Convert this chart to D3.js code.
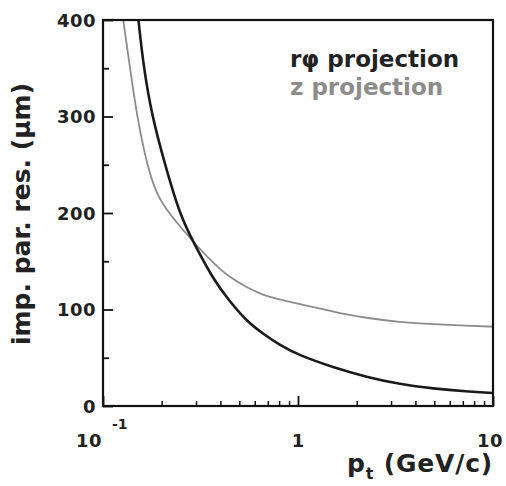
<!DOCTYPE html>
<html><head><meta charset="utf-8">
<script src="https://cdn.jsdelivr.net/npm/d3@7"></script>
<style>html,body{margin:0;padding:0;background:#fff;}</style>
</head><body>
<script>
// Data
const rphiPt  = [0.152, 0.161, 0.178, 0.208, 0.248, 0.29, 0.368, 0.448, 0.545, 0.661, 0.809, 1.0, 1.52, 2.25, 3.33, 4.94, 7.33, 10];
const rphiRes = [400, 353, 301, 250, 198, 170, 131, 108, 88, 75, 63, 53, 40, 30, 22.5, 18, 15, 13.5];
const zPt     = [0.127, 0.137, 0.149, 0.168, 0.188, 0.221, 0.29, 0.368, 0.448, 0.545, 0.661, 0.809, 1.02, 1.52, 2.25, 3.33, 4.94, 7.33, 10];
const zRes    = [400, 353, 301, 250, 219, 198, 170, 148, 133, 123, 115, 110, 105.7, 97.7, 91, 87, 84.6, 83.2, 82.2];
const yTicks  = [0, 100, 200, 300, 400];
const yMinor  = [50, 150, 250, 350];
const xMajor  = [0.1, 1, 10];
const xMinor  = [0.2,0.3,0.4,0.5,0.6,0.7,0.8,0.9,2,3,4,5,6,7,8,9];
const legend  = ["rφ projection", "z projection"];

const W = 506, H = 486;
const L = 103, R = 493, T = 20, B = 406;
const svg = d3.select("body").append("svg").attr("width", W).attr("height", H);
const x = d3.scaleLog().domain([0.1, 10]).range([L, R]);
const y = d3.scaleLinear().domain([0, 400]).range([B, T]);
const font = "'DejaVu Sans', sans-serif";

svg.append("clipPath").attr("id","clip").append("rect")
  .attr("x", L).attr("y", T).attr("width", R-L).attr("height", B-T);

// y axis ticks (inside)
const yAxis = d3.axisRight(y).tickValues(yTicks).tickSize(10).tickFormat("");
svg.append("g").attr("transform", `translate(${L},0)`).call(yAxis)
  .call(g => { g.select(".domain").remove(); g.selectAll("line").attr("stroke","#111").attr("stroke-width",1.8); });
const yAxisMinor = d3.axisRight(y).tickValues(yMinor).tickSize(6).tickFormat("");
svg.append("g").attr("transform", `translate(${L},0)`).call(yAxisMinor)
  .call(g => { g.select(".domain").remove(); g.selectAll("line").attr("stroke","#111").attr("stroke-width",1.8); });
// y labels
svg.append("g").selectAll("text").data(yTicks).join("text")
  .attr("x", L - 7).attr("y", d => y(d) + 6.5)
  .attr("text-anchor", "end").attr("font-family", font).attr("font-weight", "bold")
  .attr("font-size", 18).attr("fill", "#222").attr("letter-spacing", 0.5)
  .text(d => d);

// x axis ticks (inside)
const xAxis = d3.axisTop(x).tickValues(xMajor).tickSize(10).tickFormat("");
svg.append("g").attr("transform", `translate(0,${B})`).call(xAxis)
  .call(g => { g.select(".domain").remove(); g.selectAll("line").attr("stroke","#111").attr("stroke-width",1.8); });
const xAxisMinor = d3.axisTop(x).tickValues(xMinor).tickSize(5).tickFormat("");
svg.append("g").attr("transform", `translate(0,${B})`).call(xAxisMinor)
  .call(g => { g.select(".domain").remove(); g.selectAll("line").attr("stroke","#111").attr("stroke-width",1.5); });

// x labels
const xl = svg.append("g").attr("font-family", font).attr("font-weight","bold").attr("fill","#222");
xl.append("text").attr("x", x(0.1) - 14).attr("y", 447).attr("text-anchor","middle").attr("font-size",18).attr("letter-spacing",0.5).text("10");
xl.append("text").attr("x", x(0.1) + 9).attr("y", 429).attr("font-size",14).text("-1");
xl.append("text").attr("x", x(1)).attr("y", 447).attr("text-anchor","middle").attr("font-size",18).text("1");
xl.append("text").attr("x", x(10) - 3).attr("y", 447).attr("text-anchor","middle").attr("font-size",18).attr("letter-spacing",0.5).text("10");

// axis titles
const xt = svg.append("text").attr("x", R).attr("y", 472).attr("text-anchor","end")
  .attr("font-family", font).attr("font-weight","bold").attr("font-size", 25).attr("letter-spacing", 0.8).attr("fill","#222");
xt.append("tspan").text("p");
xt.append("tspan").attr("font-size", 16).attr("dy", 7).text("t");
xt.append("tspan").attr("dy", -7).text(" (GeV/c)");

svg.append("text").attr("transform", `translate(30,${(T+B)/2 + 1}) rotate(-90)`)
  .attr("text-anchor","middle").attr("font-family", font).attr("font-weight","bold")
  .attr("font-size", 25).attr("fill","#222").text("imp. par. res. (μm)");

// curves
const line = d3.line().x(d => x(d[0])).y(d => y(d[1])).curve(d3.curveBasis);
const plot = svg.append("g").attr("clip-path","url(#clip)");
plot.append("path").datum(zPt.map((p,i)=>[p, zRes[i]])).attr("d", line)
  .attr("fill","none").attr("stroke","#8c8c8c").attr("stroke-width",1.8);
plot.append("path").datum(rphiPt.map((p,i)=>[p, rphiRes[i]])).attr("d", line)
  .attr("fill","none").attr("stroke","#1a1a1a").attr("stroke-width",2.6);

// frame
svg.append("rect").attr("x", L).attr("y", T).attr("width", R-L).attr("height", B-T)
  .attr("fill","none").attr("stroke","#111").attr("stroke-width",2.2);

// legend
svg.append("text").attr("x", 290).attr("y", 67).attr("font-family", font).attr("font-weight","bold")
  .attr("font-size", 23).attr("fill","#222").text(legend[0]);
svg.append("text").attr("x", 290).attr("y", 95).attr("font-family", font).attr("font-weight","bold")
  .attr("font-size", 23).attr("fill","#8c8c8c").text(legend[1]);
</script>
</body></html>
